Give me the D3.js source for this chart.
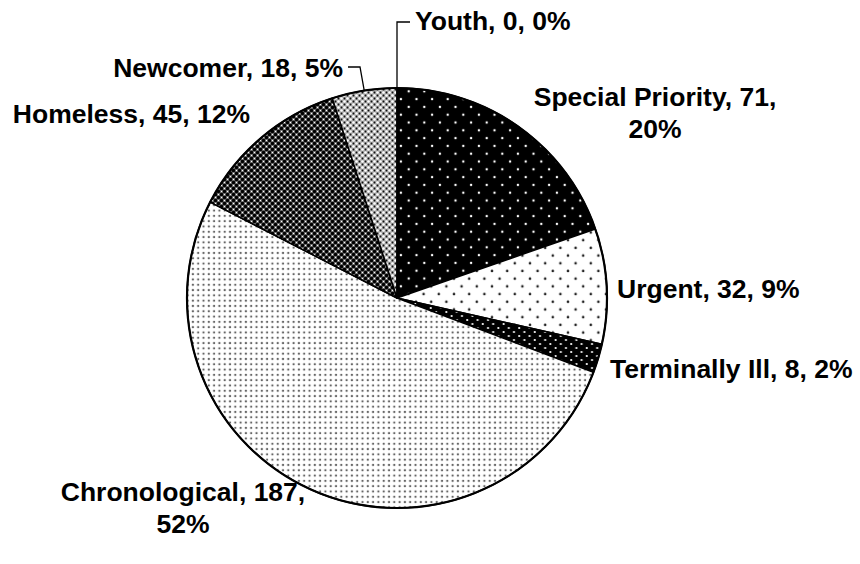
<!DOCTYPE html>
<html>
<head>
<meta charset="utf-8">
<script src="https://cdn.jsdelivr.net/npm/d3@7"></script>
<style>
  body { margin: 0; background: #fff; }
  text { font-family: "Liberation Sans", Arial, sans-serif; font-weight: bold; font-size: 26.5px; fill: #000; }
</style>
</head>
<body>
<div id="chart"></div>
<script>
// data
var categories = ["Special Priority", "Urgent", "Terminally Ill", "Chronological", "Homeless", "Newcomer", "Youth"];
var counts = [71, 32, 8, 187, 45, 18, 0];
var percents = ["20%", "9%", "2%", "52%", "12%", "5%", "0%"];

// label layout (per category): anchor point, alignment, and whether to wrap
var labelLayout = [
    {x: 655, y: 106, anchor: "middle", wrap: true},
    {x: 617, y: 298, anchor: "start"},
    {x: 610, y: 378, anchor: "start"},
    {x: 183, y: 501, anchor: "middle", wrap: true},
    {x: 250, y: 123, anchor: "end"},
    {x: 343, y: 77, anchor: "end", leader: [[360, 67], [348, 67]]},
    {x: 415, y: 30, anchor: "start", leader: [[397, 22], [410, 22]]}
];

var width = 860, height = 564;
var cx = 397, cy = 298, radius = 210;

var svg = d3.select("#chart")
    .append("svg")
    .attr("width", width)
    .attr("height", height);

var defs = svg.append("defs");

function makePattern(id, w, h, bg, dots) {
    var p = defs.append("pattern")
        .attr("id", id)
        .attr("patternUnits", "userSpaceOnUse")
        .attr("width", w)
        .attr("height", h);
    p.append("rect").attr("width", w).attr("height", h).attr("fill", bg);
    dots.forEach(function(d) {
        p.append("circle").attr("cx", d[0]).attr("cy", d[1]).attr("r", d[2]).attr("fill", d[3]);
    });
}

// fill patterns, roughly like the Excel ones
makePattern("p0", 15.6, 15.6, "#000", [[3.9, 3.9, 1.2, "#fff"], [11.7, 11.7, 1.2, "#fff"]]);
makePattern("p1", 15.2, 15.4, "#fff", [[3.8, 3.8, 1.3, "#222"], [11.4, 11.5, 1.3, "#222"]]);
makePattern("p2", 10.4, 8, "#000", [[2.6, 2, 1.1, "#fff"], [7.8, 6, 1.1, "#fff"]]);
makePattern("p3", 5.3, 5.3, "#fff", [[2.6, 2.6, 1.15, "#666"]]);
makePattern("p4", 6, 6, "#666", [[1.5, 1.5, 1.7, "#000"], [4.5, 4.5, 1.7, "#000"], [4.5, 1.5, 0.7, "#fff"], [1.5, 4.5, 0.7, "#fff"]]);
makePattern("p5", 6, 6, "#a6a6a6", [[1.5, 1.5, 1.3, "#fff"], [4.5, 4.5, 1.3, "#fff"], [4.5, 1.5, 0.9, "#111"], [1.5, 4.5, 0.9, "#111"]]);
makePattern("p6", 6, 6, "#ccc", []);

var pie = d3.pie()
    .sort(null)
    .value(function(d) { return d; });

var arc = d3.arc()
    .innerRadius(0)
    .outerRadius(radius);

var edgeArc = d3.arc()
    .innerRadius(radius)
    .outerRadius(radius);

var arcs = pie(counts);

var g = svg.append("g")
    .attr("transform", "translate(" + cx + "," + cy + ")");

g.selectAll("path.slice")
    .data(arcs)
    .enter().append("path")
    .attr("class", "slice")
    .attr("d", arc)
    .attr("fill", function(d, i) { return "url(#p" + i + ")"; })
    .attr("stroke", "#000")
    .attr("stroke-width", 1.5)
    .attr("stroke-linejoin", "round");

// outer rim a bit heavier
g.append("circle")
    .attr("r", radius)
    .attr("fill", "none")
    .attr("stroke", "#000")
    .attr("stroke-width", 2.2);

// leader lines
arcs.forEach(function(d, i) {
    var L = labelLayout[i];
    if (!L.leader) return;
    var p = edgeArc.centroid(d);
    var pts = [[cx + p[0], cy + p[1]]].concat(L.leader);
    svg.append("path")
        .attr("d", d3.line()(pts))
        .attr("fill", "none")
        .attr("stroke", "#000")
        .attr("stroke-width", 1.3);
});

// labels
categories.forEach(function(c, i) {
    var L = labelLayout[i];
    var t = svg.append("text")
        .attr("x", L.x)
        .attr("y", L.y)
        .attr("text-anchor", L.anchor);
    if (L.wrap) {
        t.append("tspan").attr("x", L.x).text(c + ", " + counts[i] + ",");
        t.append("tspan").attr("x", L.x).attr("dy", 32).text(percents[i]);
    } else {
        t.text(c + ", " + counts[i] + ", " + percents[i]);
    }
});
</script>
</body>
</html>
